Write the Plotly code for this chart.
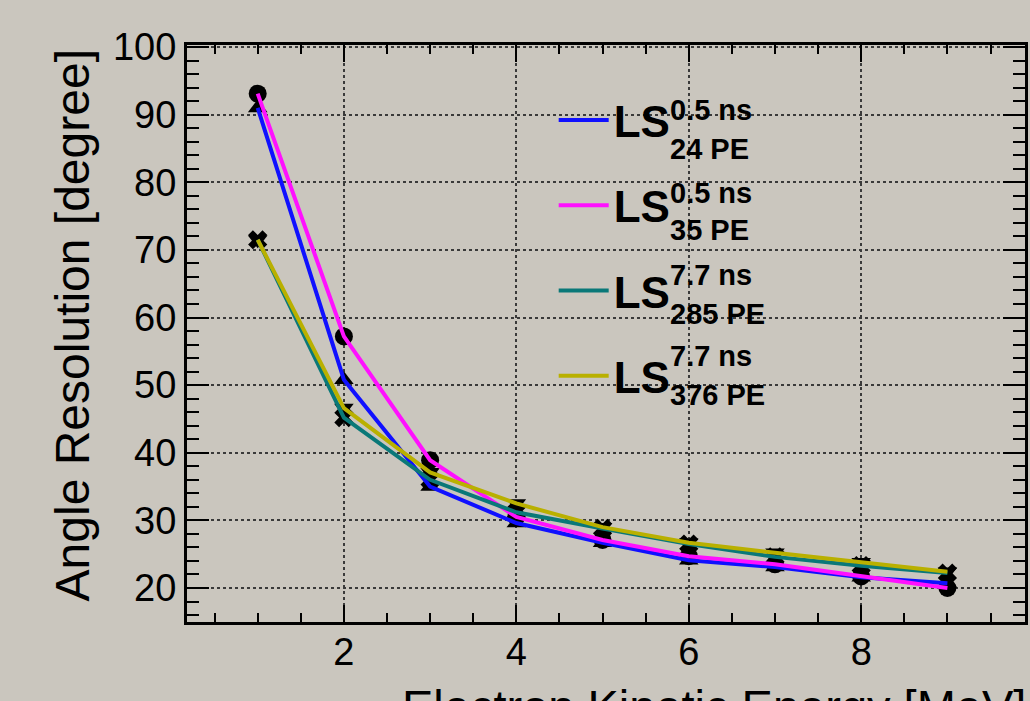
import plotly.graph_objects as go

energy = [1, 2, 3, 4, 5, 6, 7, 8, 9]
res_24pe = [91.0, 50.8, 35.0, 29.6, 26.7, 24.1, 23.1, 21.6, 20.7]
res_35pe = [93.1, 57.2, 38.9, 30.5, 27.1, 24.7, 23.5, 21.7, 20.0]
res_285pe = [71.5, 45.2, 36.0, 31.2, 28.8, 26.5, 24.6, 23.3, 22.2]
res_376pe = [71.5, 46.6, 37.1, 32.5, 29.0, 26.7, 25.2, 23.8, 22.4]

series = [
    ("24 PE", "0.5 ns", res_24pe, "#1010ff", "triangle-up"),
    ("35 PE", "0.5 ns", res_35pe, "#ff10ff", "circle"),
    ("285 PE", "7.7 ns", res_285pe, "#0a7878", "x"),
    ("376 PE", "7.7 ns", res_376pe, "#b9b000", "triangle-down"),
]

BG = "#cac6be"
FONT = "Liberation Sans, Arial, sans-serif"

fig = go.Figure()

# black markers underneath
for sub, sup, vals, col, sym in series:
    fig.add_trace(go.Scatter(
        x=energy, y=vals, mode="markers", showlegend=False,
        marker=dict(symbol=sym, size=18 if sym == "circle" else 17, color="black",
                    line=dict(width=0)),
        hoverinfo="skip"))

# coloured lines
for i, (sub, sup, vals, col, sym) in enumerate(series):
    fig.add_trace(go.Scatter(
        x=energy, y=vals, mode="lines", name="<b>LS</b>",
        legendgroup=f"g{i}",
        line=dict(color=col, width=4)))

# super/subscripts for legend labels
W, H = 841.0, 577.0
sup_base = [119, 202, 284, 365]
sub_base = [158, 239, 323, 404]
for i, (sub, sup, vals, col, sym) in enumerate(series):
    fig.add_annotation(xref="paper", yref="paper", x=(670 - 187) / W,
                       y=(622 - (sup_base[i] - 9)) / H, xanchor="left", yanchor="middle",
                       text=f"<b>{sup}</b>", showarrow=False,
                       font=dict(family=FONT, size=29, color="black"))
    fig.add_annotation(xref="paper", yref="paper", x=(670 - 187) / W,
                       y=(622 - (sub_base[i] - 9)) / H, xanchor="left", yanchor="middle",
                       text=f"<b>{sub}</b>", showarrow=False,
                       font=dict(family=FONT, size=29, color="black"))

# axis titles
fig.add_annotation(xref="paper", yref="paper", x=(401 - 187) / W, y=(622 - 678) / H,
                   xanchor="left", yanchor="top", text="Electron Kinetic Energy [MeV]",
                   showarrow=False, font=dict(family=FONT, size=47, color="black"))
fig.add_annotation(xref="paper", yref="paper", x=(72 - 187) / W, y=(622 - 325) / H,
                   xanchor="center", yanchor="middle", textangle=-90,
                   text="Angle Resolution [degree]",
                   showarrow=False, font=dict(family=FONT, size=48, color="black"))

axis_common = dict(
    showline=True, linecolor="black", linewidth=3, mirror="ticks",
    ticks="inside", tickcolor="black", tickwidth=2,
    showgrid=True, gridcolor="#3a3a3a", griddash="dot", gridwidth=2,
    zeroline=False, tickfont=dict(family=FONT, size=38, color="black"),
)

fig.update_xaxes(range=[0.18, 9.9], dtick=2, tick0=0, ticklen=17, ticklabelstandoff=-6,
                 minor=dict(dtick=0.5, tick0=0, ticklen=9, tickwidth=2, tickcolor="black",
                            ticks="inside", showgrid=False),
                 **axis_common)
fig.update_yaxes(range=[14.97, 100.3], dtick=10, tick0=0, ticklen=22,
                 minor=dict(dtick=2, tick0=0, ticklen=12, tickwidth=2, tickcolor="black",
                            ticks="inside", showgrid=False),
                 **axis_common)

fig.update_layout(
    width=1030, height=701,
    margin=dict(l=187, r=2, t=45, b=79),
    paper_bgcolor=BG, plot_bgcolor=BG,
    showlegend=True,
    legend=dict(x=(555 - 187) / W, y=(622 - 85) / H, xanchor="left", yanchor="top",
                bgcolor="rgba(0,0,0,0)", borderwidth=0,
                font=dict(family=FONT, size=44, color="black"),
                tracegroupgap=25, itemwidth=50),
)

fig.write_html("out.html", config={"displayModeBar": False},
               post_script="document.body.style.margin='0';document.body.style.overflow='hidden';")
